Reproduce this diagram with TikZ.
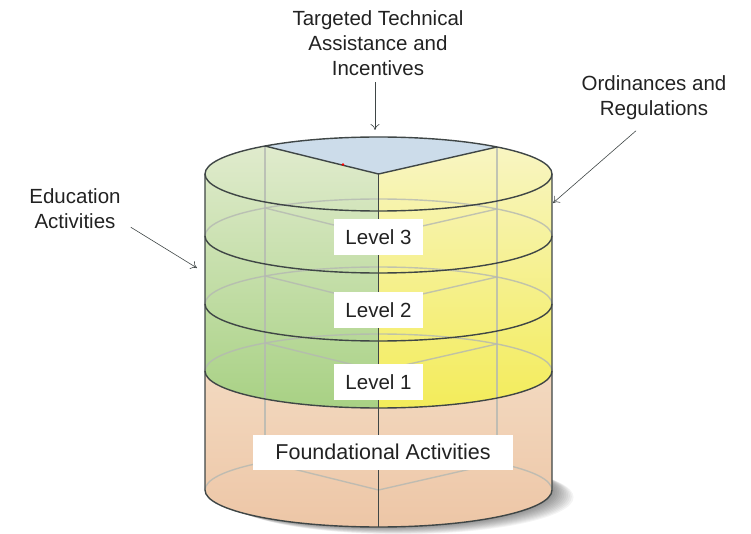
\documentclass[tikz,border=0pt]{standalone}
\usepackage{fontspec}
\setmainfont{Liberation Sans}
\usetikzlibrary{arrows.meta}
\definecolor{edge}{HTML}{3F4646}
\definecolor{faint}{HTML}{B4B8B2}
\definecolor{greentop}{HTML}{E0EBCD}
\definecolor{greenlow}{HTML}{A8D184}
\definecolor{yellowtop}{HTML}{F8F5C2}
\definecolor{yellowlow}{HTML}{F3EC5A}
\definecolor{peachtop}{HTML}{F3D9C0}
\definecolor{peachlow}{HTML}{EDC6A6}
\definecolor{topblue}{HTML}{CCDCEA}
\definecolor{textgrey}{HTML}{222222}
\tikzset{
  levelbox/.style={fill=white, inner sep=0pt, minimum width=89pt, minimum height=36pt, text=textgrey, font=\fontsize{20.5}{24}\selectfont},
  callout/.style={align=center, inner sep=0pt, text=textgrey, font=\fontsize{20.5}{25}\selectfont},
  pointer/.style={draw=edge, line width=0.6pt, -{To[length=6pt,width=9pt]}},
  ring/.style={x radius=173.5, y radius=37}
}
\begin{document}
\begin{tikzpicture}[x=1pt,y=1pt]
  \useasboundingbox (0,0) rectangle (751,533);
  \foreach \k in {1,...,12}
    \fill[black,opacity=0.045] (378.5+1.8*\k,43-0.6*\k) ellipse [ring];
  \coordinate (topc) at (378.5,359);
  \coordinate (topl) at (264.9,387);
  \coordinate (topr) at (497,386);
  \shade[top color=peachtop, bottom color=peachlow] (205,162) arc[start angle=180, end angle=360, ring] -- (552,43) arc[start angle=0, end angle=-180, ring] -- cycle;
  \shade[top color=greentop, bottom color=greenlow] (topc) -- (topl) arc[start angle=130.9, end angle=180, ring] -- (205,162) arc[start angle=180, end angle=270, ring] -- cycle;
  \shade[top color=yellowtop, bottom color=yellowlow] (topc) -- (topr) arc[start angle=46.9, end angle=0, ring] -- (552,162) arc[start angle=0, end angle=-90, ring] -- cycle;
  \fill[topblue] (topc) -- (topl) arc[start angle=130.9, end angle=46.9, ring] -- cycle;
  \begin{scope}[draw=faint, line width=1.4pt, opacity=0.8]
    \foreach \y in {297,229,162,43} {
      \draw (552,\y) arc[start angle=0, end angle=180, ring];
      \draw (264.9,\y+28) -- (378.5,\y) -- (497,\y+27);
    }
    \draw (topl) -- (264.9,71);
    \draw (topr) -- (497,70);
  \end{scope}
  \begin{scope}[draw=edge, line width=1.4pt]
    \draw (topc) ellipse [ring];
    \foreach \y in {297,229,162}
      \draw (205,\y) arc[start angle=180, end angle=360, ring];
    \draw (205,359) -- (205,43) arc[start angle=180, end angle=360, ring] -- (552,359);
    \draw (topl) -- (topc) -- (topr);
    \draw[line width=0.9pt] (topc) -- (378.5,6);
  \end{scope}
  \fill[red] (343,368.5) circle (1.4);
  \node[levelbox] (lvl3) at (378.5,296) {Level 3};
  \node[levelbox] (lvl2) at (378.5,223) {Level 2};
  \node[levelbox] (lvl1) at (378.5,151) {Level 1};
  \node[levelbox, minimum width=260pt, minimum height=35pt, font=\fontsize{21.5}{24}\selectfont] (found) at (383,81) {Foundational Activities};
  \node[callout] (tech) at (378,489.5) {Targeted Technical\\Assistance and\\Incentives};
  \node[callout] (ord) at (654,435.5) {Ordinances and\\Regulations};
  \node[callout] (edu) at (75,324) {Education\\Activities};
  \coordinate (techtip) at (375,403);
  \coordinate (ordtip) at (553,330);
  \coordinate (edutip) at (197,265);
  \draw[pointer] ([xshift=-3pt,yshift=-6pt]tech.south) -- (techtip);
  \draw[pointer] ([xshift=-18pt,yshift=-11pt]ord.south) -- (ordtip);
  \draw[pointer] ([xshift=10pt,yshift=2pt]edu.south east) -- (edutip);
\end{tikzpicture}
\end{document}
